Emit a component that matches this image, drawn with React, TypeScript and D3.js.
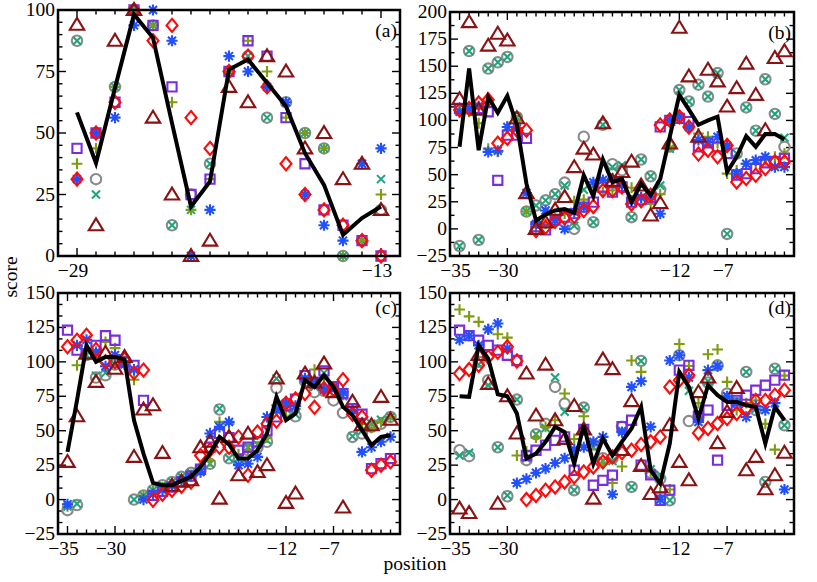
import React from 'react';
import * as d3 from 'd3';

// positions along the sequence
const posA = [-29, -28, -27, -26, -25, -24, -23, -22, -21, -20, -19, -18, -17, -16, -15, -14, -13];
const posLong = [-35, -34, -33, -32, -31, -30, -29, -28, -27, -26, -25, -24, -23, -22, -21, -20, -19, -18,
  -17, -16, -15, -14, -13, -12, -11, -10, -9, -8, -7, -6, -5, -4, -3, -2, -1];

// panel (a)
const triA = [94, 12.5, 87.5, 100, 56.25, 25, 0, 6.25, 68.75, 62.5, 81.25, 75, 43.75, 50, 31.25, 37.5, 18.75];
const circA = [87.5, 31.25, 68.75, 100, 93.75, 12.5, 25, 37.5, 75, 81.25, 56.25, 62.5, 50, 43.75, 0, 6.25, 18.75];
const crossA = [87.5, 25, 68.75, 100, 93.75, 12.5, 18.75, 37.5, 75, 81.25, 56.25, 62.5, 50, 43.75, 0, 6.25, 31.25];
const plusA = [37.5, 43.75, 68.75, 100, 93.75, 62.5, 18.75, 31.25, 75, 87.5, 75, 56.25, 50, 43.75, 0, 6.25, 25];
const astA = [31.25, 50, 56.25, 93.75, 100, 87.5, 0, 18.75, 81.25, 75, 68.75, 62.5, 25, 12.5, 6.25, 37.5, 43.75];
const sqA = [43.75, 50, 62.5, 100, 93.75, 68.75, 25, 31.25, 75, 87.5, 81.25, 56.25, 37.5, 18.75, 12.5, 6.25, 0];
const diaA = [31.25, 50, 62.5, 100, 87.5, 93.75, 56.25, 43.75, 75, 81.25, 68.75, 37.5, 25, 18.75, 12.5, 6.25, 0];
const lineA = [58.4, 37.8, 68.3, 98.2, 88.7, 54, 20.1, 30.3, 75.8, 79.9, 70.4, 60.9, 41.8, 28.9, 8.6, 15.4, 20.1];

// panel (b)
const triB = [119.6, 190.7, 110, 169, 180, 173.7, 102, 33, 0, 6, 17.6, 29.4, 57, 74, 68.6, 97.4, 44, 52.5, 62, 40,
  12.4, 23.8, 78.8, 185.5, 140.6, 85, 146.8, 136, 112.8, 129.8, 152.4, 123.6, 91, 157.6, 163.8];
const circB = [-15.8, 164, -10.2, 147.8, 153.6, 158.6, 103, 16, 21.6, 26.3, 32, 42.7, 0, 85, 6.2, 96, 59.7, 54, 10.8,
  64, 48.5, 36, 76, 128, 117.5, 133, 122, 143.7, -4.6, 69.5, 112, 90.6, 138, 106, 75.7];
const crossB = [-15.8, 164, -10.2, 147.8, 153.6, 158.6, 103, 16, 21.6, 26.3, 32, 40, 3, 36, 6.2, 96, 57, 58.7, 10.8,
  64, 48.5, 40, 74, 128, 117.5, 133, 122, 143.7, -4.6, 69.5, 112, 90.6, 138, 106, 84];
const plusB = [110, 108, 97.4, 74, 71, 94, 100, 16, 1.5, 4.6, 9, 14, 25.6, 27, 38.6, 34, 35.5, 43, 38, 29, 23, 32,
  75.7, 103.5, 92.7, 88, 85, 79, 51, 54, 60, 60, 63.4, 66.5, 69.5];
const astB = [108, 111, 113, 71, 72, 94, 92.7, 33, 4.6, 17, 7.7, 0, 15.5, 20, 43, 45, 46.4, 40, 26, 29, 30, 14,
  100.5, 103.5, 94, 82, 80, 85, 77, 51, 60, 63.4, 66.5, 57, 57];
const sqB = [111, 111, 111, 108, 44.8, 86.5, 86.5, 83.5, 2, -1, 8, 10.8, 14, 20, 24.7, 38.6, 34, 38.6, 24.7, 27, 29,
  94, 100, 102, 99, 75.7, 79.4, 75.7, 69.5, 49.5, 51, 55.6, 61, 62, 65];
const diaB = [109.7, 111, 116, 119, 79, 83.5, 91, 91, -1.5, 1.5, 7, 10, 11.4, 17, 20.7, 35.5, 35.5, 38.6, 23, 26, 31,
  95.8, 100.5, 103.5, 94, 69, 72.6, 66.5, 77, 43.3, 46.4, 49.5, 55.6, 61.8, 61.8];
const lineB = [75.7, 148, 72.6, 121.5, 107, 122.7, 95.8, 41.7, 7.7, 13.3, 17, 18.2, 14.8, 49.5, 30, 64, 43, 46, 24.7,
  41.7, 31, 46, 85, 123.6, 110, 96, 100, 103.5, 52.5, 66.5, 85.6, 75.7, 87.5, 87.5, 82.5];

// panel (c)
const triC = [27.4, 60.5, 106, 85.5, 106.5, 95, 103.6, 31, 65.4, 68.5, 33.9, 10, 13, 14, 38, 42, 0.7, 45.5, 17.7,
  47.9, 20, 25, 88, -2.4, 4.4, 91.5, 85, 98.8, 78, -5.8, 71, 54, 54, 74.6, 58];
const circC = [-7.7, -4, 105, 88.6, 90.3, 98, 100, 0, 3, 6.8, 10.4, 12.8, 16.5, 19.4, 22, 26, 65.4, 30, 28, 36, 38,
  42, 81, 64, 60.5, 86, 78, 79, 72, 63, 45.5, 48, 52.8, 55, 60];
const crossC = [-5, -3, 105, 90, 92, 98, 102, 0, 3, 6.8, 10.4, 12.8, 16.5, 19.4, 22, 26, 66, 30, 30, 38, 40, 43, 88,
  66, 62, 87, 82, 92, 80, 75, 46, 50, 55, 58, 60];
const plusC = [-5, 97.5, 108, 104, 114.5, 110, 100, 87, 3, 6, 9, 12, 15, 18, 24, 28, 56.4, 55, 33, 36, 38, 45, 68.5,
  65, 66, 88, 94.4, 88, 82, 76, 65, 55, 52, 56, 60];
const astC = [-3.4, 112, 116, 107, 96.8, 105, 98, 94.4, 0, 4, 7, 10, 14, 17, 20, 48, 52.8, 56.4, 25, 26, 31, 60, 65,
  70, 68, 88, 86, 80, 82, 78, 65, 34.6, 38, 42, 45.5];
const sqC = [123, 108.5, 106, 112, 119, 115.7, 100, 97.5, 72, 3, 6, 9, 13, 17, 22, 38, 48, 45, 35.8, 38, 42, 50, 60,
  68, 73, 90, 85, 93.4, 82, 77, 66, 62, 22.5, 26, 29.8];
const diaC = [111, 115.7, 119.3, 109, 100, 100, 102, 92, 94, -0.5, 3.9, 6.8, 9.7, 12.8, 32, 36, 38, 38, 45.5, 17.7,
  49, 55, 57, 70, 73, 77, 67, 80.6, 80, 87, 62, 60, 21.3, 25, 27.4];
const lineC = [34.6, 72, 112, 100, 103.6, 103.6, 101.7, 57.6, 33.4, 12.1, 10.4, 10.4, 13.6, 16.5, 23.7, 33.4, 45.5,
  40, 29.8, 29.8, 35.8, 47.9, 74.6, 57.6, 62.5, 86.7, 81.8, 90.3, 81.8, 67.3, 61.2, 50.4, 39.5, 45.5, 46.7];

// panel (d)
const triD = [-6.5, -9.7, 105, 84, -3, 75, 48, 91.5, 61, 98, 57.6, 44, 68, 51, 0.7, 101.7, 94.7, 36, 71.5, 24.5, 4,
  9, 54, 27.4, 14, 78, 88.6, 41, 63.7, 81, 21.3, 31, 7.5, 17.7, 34];
const circD = [35.8, 31.5, 100, 86.7, 38, 2.4, 72.6, 28.6, 47.4, 55, 81.8, 69.7, 6.8, 66.8, 40, 30, 30, 52.8, 9.2,
  100.7, 19.4, 15, -0.5, 104.8, 57, 60, 85, 97.5, 77, 70, 92.7, 65, 12.8, 95, 54];
const crossD = [32, 34, 98, 83, 38, 3, 72.6, 30, 47.4, 52, 88.6, 63.7, 6.8, 66.8, 38, 28, 28, 50, 9.2, 100.7, 22, 18,
  -0.5, 104.8, 79, 62, 86, 97.5, 75, 72, 92.7, 66, 12.8, 95, 54];
const plusD = [138, 133, 129, 124, 120, 117.6, 32, 35, 45, 52.8, 57.6, 77, 44, 60.5, 40, 26, 12, 24, 101, 92.7, 20,
  5, 7.3, 113, 97, 70, 105.5, 109, 85.5, 65, 70, 72, 55, 36.3, 90];
const astD = [116, 119, 112, 123.5, 127.8, 109.7, 12, 15, 19.4, 22.5, 26.6, 30, 36.3, 38, 42, 45.5, 3.9, 49, 81.8, 86,
  52.8, 0, 101, 104.8, 88.6, 56.4, 94, 96.8, 75, 70, 60, 68, 65, 70, 7.3];
const sqD = [123, 119, 115.7, 112, 108.5, 104.8, 101, 32, 35.8, 39.5, 43, 45.5, 21.3, 51, 10.4, 14, 17.7, 53, 57.6,
  25, 18, -0.5, 6.8, 94, 97.5, 60.5, 65, 28.6, 68.5, 72, 75.8, 79.4, 83, 86.7, 90.3];
const diaD = [91.5, 94.4, 97.5, 103.6, 107, 111, 100.7, 0, 3, 6.8, 9.2, 12.8, 16.5, 20, 23.7, 27.4, 31, 34, 35.8, 40,
  42, 45.5, 81.8, 86.7, 90.3, 48.4, 51.6, 55.2, 58.8, 62.5, 66, 72, 72, 75.8, 79.4];
const lineD = [75, 74.6, 112, 102.4, 76.5, 75, 62.5, 29.8, 33.4, 41.9, 52.8, 49, 26, 54, 26, 44.3, 32, 42, 51.6, 67.3,
  21.3, 11.6, 40.7, 92.7, 81.8, 58.8, 83, 75.8, 70.9, 70.9, 68.5, 67.3, 40.7, 67.3, 57.6];

const xLabelsA = [-29, -13];
const xLabelsLong = [-35, -30, -12, -7];

// marker shapes, drawn in this order
const markers = [
  { key: 'circ', color: '#8a8a8a', d: '' },
  { key: 'cross', color: '#1ea57c', d: 'M-4,-4L4,4M-4,4L4,-4' },
  { key: 'plus', color: '#7f9c10', d: 'M-5.4,0H5.4M0,-5.4V5.4' },
  { key: 'sq', color: '#7a2de0', d: 'M-4.6,-4.6H4.6V4.6H-4.6Z' },
  { key: 'ast', color: '#2050ff', d: 'M-5.6,0H5.6M0,-5.6V5.6M-4,-4L4,4M-4,4L4,-4' },
  { key: 'dia', color: '#ff0a0a', d: 'M0,-6.6L5.5,0L0,6.6L-5.5,0Z' },
  { key: 'tri', color: '#8b1212', d: 'M0,-6.9L7.2,5L-7.2,5Z' },
];

const panels = [
  {
    label: '(a)', box: [58, 400, 10, 256], xd: [-30, -12], yd: [0, 100], major: 25, minor: 5,
    xl: xLabelsA, pos: posA,
    s: { circ: circA, cross: crossA, plus: plusA, sq: sqA, ast: astA, dia: diaA, tri: triA }, line: lineA,
  },
  {
    label: '(b)', box: [450, 794, 12, 256], xd: [-36, 0], yd: [-25, 200], major: 25, minor: 12.5,
    xl: xLabelsLong, pos: posLong,
    s: { circ: circB, cross: crossB, plus: plusB, sq: sqB, ast: astB, dia: diaB, tri: triB }, line: lineB,
  },
  {
    label: '(c)', box: [58, 400, 293, 534], xd: [-36, 0], yd: [-25, 150], major: 25, minor: 25 / 3,
    xl: xLabelsLong, pos: posLong,
    s: { circ: circC, cross: crossC, plus: plusC, sq: sqC, ast: astC, dia: diaC, tri: triC }, line: lineC,
  },
  {
    label: '(d)', box: [450, 794, 293, 534], xd: [-36, 0], yd: [-25, 150], major: 25, minor: 25 / 3,
    xl: xLabelsLong, pos: posLong,
    s: { circ: circD, cross: crossD, plus: plusD, sq: sqD, ast: astD, dia: diaD, tri: triD }, line: lineD,
  },
];

const font = '"Liberation Serif", "DejaVu Serif", serif';
const fmt = (v: number) => (v < 0 ? '\u2212' + Math.abs(v) : String(v));

function Panel({ p }: { p: any }) {
  const [l, r, t, b] = p.box;
  const x = d3.scaleLinear().domain(p.xd).range([l, r]);
  const y = d3.scaleLinear().domain(p.yd).range([b, t]);

  const xTicks = d3.range(p.xd[0] + 1, p.xd[1]);
  const yMinor = d3.range(p.yd[0], p.yd[1] + 0.01, p.minor);
  const yMajor = d3.range(p.yd[0], p.yd[1] + 0.01, p.major);

  const line = d3.line<number>()
    .x((_, i) => x(p.pos[i]))
    .y((v) => y(v));

  return (
    <g>
      {/* ticks */}
      <g stroke="#000" strokeWidth={1.4}>
        {xTicks.map((v) => {
          const len = p.xl.includes(v) ? 8 : 4.5;
          return (
            <g key={'x' + v}>
              <line x1={x(v)} x2={x(v)} y1={b} y2={b - len} />
              <line x1={x(v)} x2={x(v)} y1={t} y2={t + len} />
            </g>
          );
        })}
        {yMinor.map((v: number) => {
          const isMajor = yMajor.some((m: number) => Math.abs(m - v) < 1e-6);
          const len = isMajor ? 8 : 4.5;
          return (
            <g key={'y' + v}>
              <line x1={l} x2={l + len} y1={y(v)} y2={y(v)} />
              <line x1={r} x2={r - len} y1={y(v)} y2={y(v)} />
            </g>
          );
        })}
      </g>

      {/* tick labels */}
      <g fontFamily={font} fontSize={19.5} fill="#000">
        {yMajor.map((v: number) => (
          <text key={'yl' + v} x={l - 3} y={y(v) + 6} textAnchor="end">{fmt(v)}</text>
        ))}
        {p.xl.map((v: number) => (
          <text key={'xl' + v} x={x(v) - 4} y={b + 21} textAnchor="middle">{fmt(v)}</text>
        ))}
        <text x={r - 3} y={t + (t < 100 ? 27 : 21)} textAnchor="end">{p.label}</text>
      </g>

      {/* markers */}
      {markers.map((m) => (
        <g key={m.key} stroke={m.color} strokeWidth={2.1} fill="none">
          {p.s[m.key].map((v: number, i: number) =>
            m.key === 'circ' ? (
              <circle key={i} cx={x(p.pos[i])} cy={y(v)} r={5.2} />
            ) : (
              <path key={i} d={m.d} transform={`translate(${x(p.pos[i])},${y(v)})`} />
            )
          )}
        </g>
      ))}

      {/* mean line */}
      <path d={line(p.line) || ''} fill="none" stroke="#000" strokeWidth={4} strokeLinejoin="miter" />

      {/* frame */}
      <rect x={l} y={t} width={r - l} height={b - t} fill="none" stroke="#000" strokeWidth={2.5} />
    </g>
  );
}

export default function App() {
  return (
    <svg
      width={817}
      height={582}
      style={{ position: 'absolute', left: 0, top: 0, background: '#fff' }}
    >
      {panels.map((p) => (
        <Panel key={p.label} p={p} />
      ))}
      <text x={17} y={277} fontFamily={font} fontSize={19.5} textAnchor="middle" transform="rotate(-90,17,277)">
        score
      </text>
      <text x={415} y={570} fontFamily={font} fontSize={19.5} textAnchor="middle">
        position
      </text>
    </svg>
  );
}
